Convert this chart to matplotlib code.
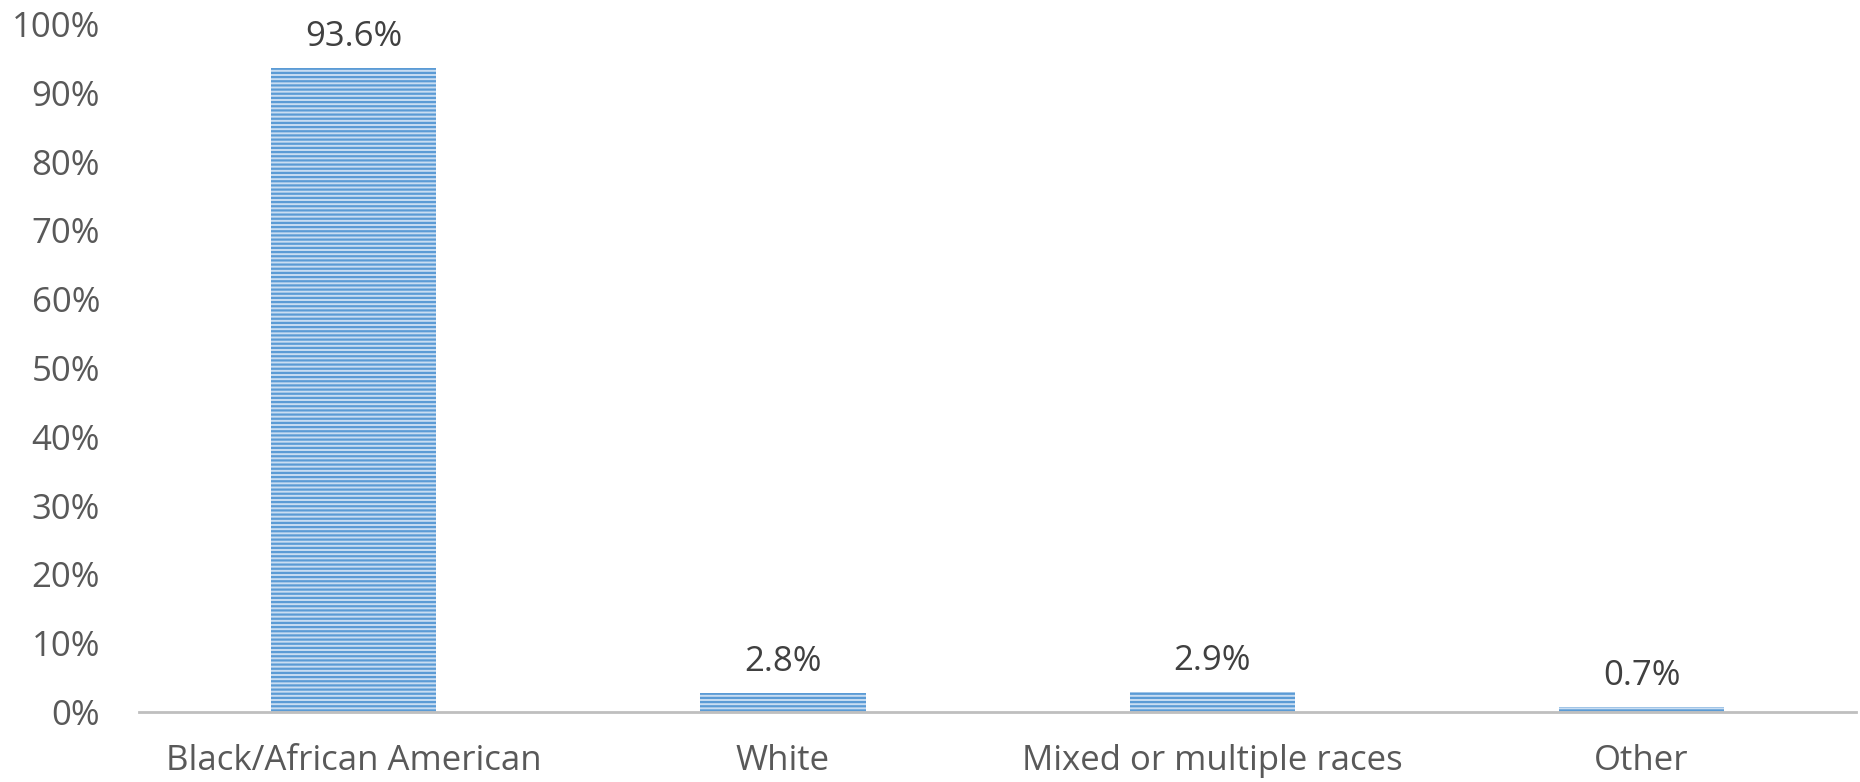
import matplotlib
matplotlib.use("Agg")
import matplotlib.pyplot as plt
from matplotlib.ticker import FuncFormatter

categories = ["Black/African American", "White", "Mixed or multiple races", "Other"]
values = [93.6, 2.8, 2.9, 0.7]
labels = ["93.6%", "2.8%", "2.9%", "0.7%"]

plt.rcParams['font.family'] = ['Open Sans', 'DejaVu Sans']
plt.rcParams['hatch.linewidth'] = 1.6

fig = plt.figure(figsize=(18.6, 7.82), dpi=100)
ax = fig.add_axes([0.0747, 0.0895, 0.9233, 0.8798])

x = range(len(categories))
bars = ax.bar(x, values, width=0.385, color="#C9DDF2", edgecolor="#5B9BD5",
              hatch="----", linewidth=0)

for xi, v, lab in zip(x, values, labels):
    ax.annotate(lab, (xi, v), xytext=(0, 16), textcoords="offset points",
                ha="center", va="baseline", fontsize=25, color="#404040")

ax.set_xlim(-0.5, 3.5)
ax.set_ylim(0, 100)
ax.set_yticks(range(0, 101, 10))
ax.yaxis.set_major_formatter(FuncFormatter(lambda v, p: f"{int(v)}%"))
ax.set_xticks(list(x))
ax.set_xticklabels(categories)
ax.tick_params(axis='both', length=0, labelsize=25, labelcolor="#595959")
ax.tick_params(axis='x', pad=23)
ax.tick_params(axis='y', pad=28)
for s in ["top", "right", "left"]:
    ax.spines[s].set_visible(False)
ax.spines["bottom"].set_color("#BFBFBF")
ax.spines["bottom"].set_linewidth(2)

fig.savefig("out.png", dpi=100)
